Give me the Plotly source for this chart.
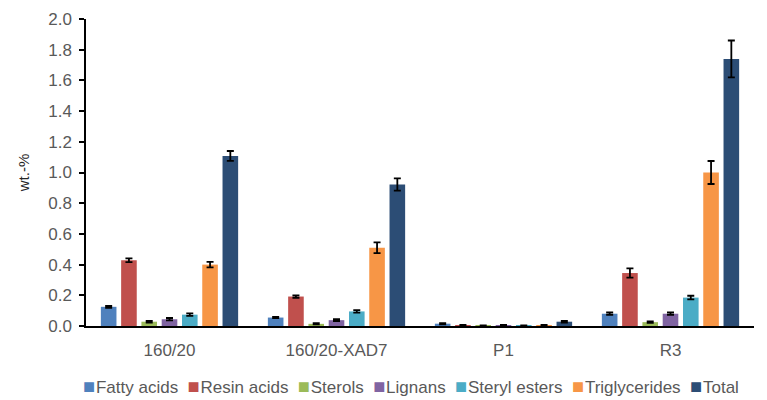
import plotly.graph_objects as go

# Samples and extractive groups
samples = ["160/20", "160/20-XAD7", "P1", "R3"]
groups = ["Fatty acids", "Resin acids", "Sterols", "Lignans",
          "Steryl esters", "Triglycerides", "Total"]

# Mean content, wt.-% (one list per group, ordered as samples)
fatty_acids = [0.125, 0.055, 0.015, 0.080]
resin_acids = [0.428, 0.192, 0.005, 0.345]
sterols = [0.028, 0.014, 0.003, 0.025]
lignans = [0.044, 0.038, 0.005, 0.080]
steryl_esters = [0.074, 0.095, 0.003, 0.185]
triglycerides = [0.400, 0.510, 0.005, 1.000]
total = [1.108, 0.922, 0.028, 1.740]

# Standard deviations
fatty_acids_sd = [0.006, 0.004, 0.004, 0.008]
resin_acids_sd = [0.012, 0.008, 0.002, 0.030]
sterols_sd = [0.006, 0.004, 0.001, 0.005]
lignans_sd = [0.008, 0.006, 0.002, 0.008]
steryl_esters_sd = [0.008, 0.008, 0.001, 0.012]
triglycerides_sd = [0.018, 0.035, 0.002, 0.075]
total_sd = [0.032, 0.040, 0.006, 0.120]

values = [fatty_acids, resin_acids, sterols, lignans, steryl_esters, triglycerides, total]
errors = [fatty_acids_sd, resin_acids_sd, sterols_sd, lignans_sd,
          steryl_esters_sd, triglycerides_sd, total_sd]
colors = ["#4F81BD", "#C0504D", "#9BBB59", "#8064A2", "#4BACC6", "#F79646", "#2C4D75"]

y_ticks = [0.0, 0.2, 0.4, 0.6, 0.8, 1.0, 1.2, 1.4, 1.6, 1.8, 2.0]

FONT = "Liberation Sans, Arial, sans-serif"
TEXT_GREY = "#595959"

fig = go.Figure()
for name, vals, errs, col in zip(groups, values, errors, colors):
    fig.add_trace(go.Bar(
        name=name, x=samples, y=vals, marker_color=col,
        marker_line_width=0, showlegend=False,
        error_y=dict(type="data", array=errs, color="black",
                     thickness=1.8, width=3.5),
    ))

# Single-line legend below the axis: coloured square + label for each group
legend_parts = [
    f"<span style='color:{col};font-size:20px'>■</span>"
    f"<span style='font-size:3px'> </span>{name}"
    for name, col in zip(groups, colors)
]
fig.add_annotation(
    text="  ".join(legend_parts),
    xref="paper", yref="paper", x=0.487, y=-0.194,
    xanchor="center", yanchor="middle", showarrow=False,
    font=dict(family=FONT, size=17, color=TEXT_GREY),
)

fig.update_layout(
    width=767, height=400,
    barmode="group", bargap=0.15, bargroupgap=0.23,
    plot_bgcolor="white", paper_bgcolor="white",
    margin=dict(l=86, r=13, t=19, b=74),
    font=dict(family=FONT, size=17, color=TEXT_GREY),
    showlegend=False,
)
fig.update_xaxes(
    showline=True, linecolor="black", linewidth=1.5,
    ticks="", showgrid=False, automargin=False,
    ticklabelstandoff=8,
    tickfont=dict(family=FONT, size=17, color=TEXT_GREY),
)
fig.update_yaxes(
    range=[0, 2.0], tickvals=y_ticks, ticktext=[f"{v:.1f}" for v in y_ticks],
    showline=True, linecolor="black", linewidth=1.5,
    ticks="outside", ticklen=5, tickcolor="black", tickwidth=1.5,
    showgrid=False, zeroline=False, automargin=False,
    ticklabelstandoff=4,
    tickfont=dict(family=FONT, size=17, color=TEXT_GREY),
    title=dict(text="wt.-%", font=dict(family=FONT, size=15, color="#262626")),
)

fig.write_html("out.html")
